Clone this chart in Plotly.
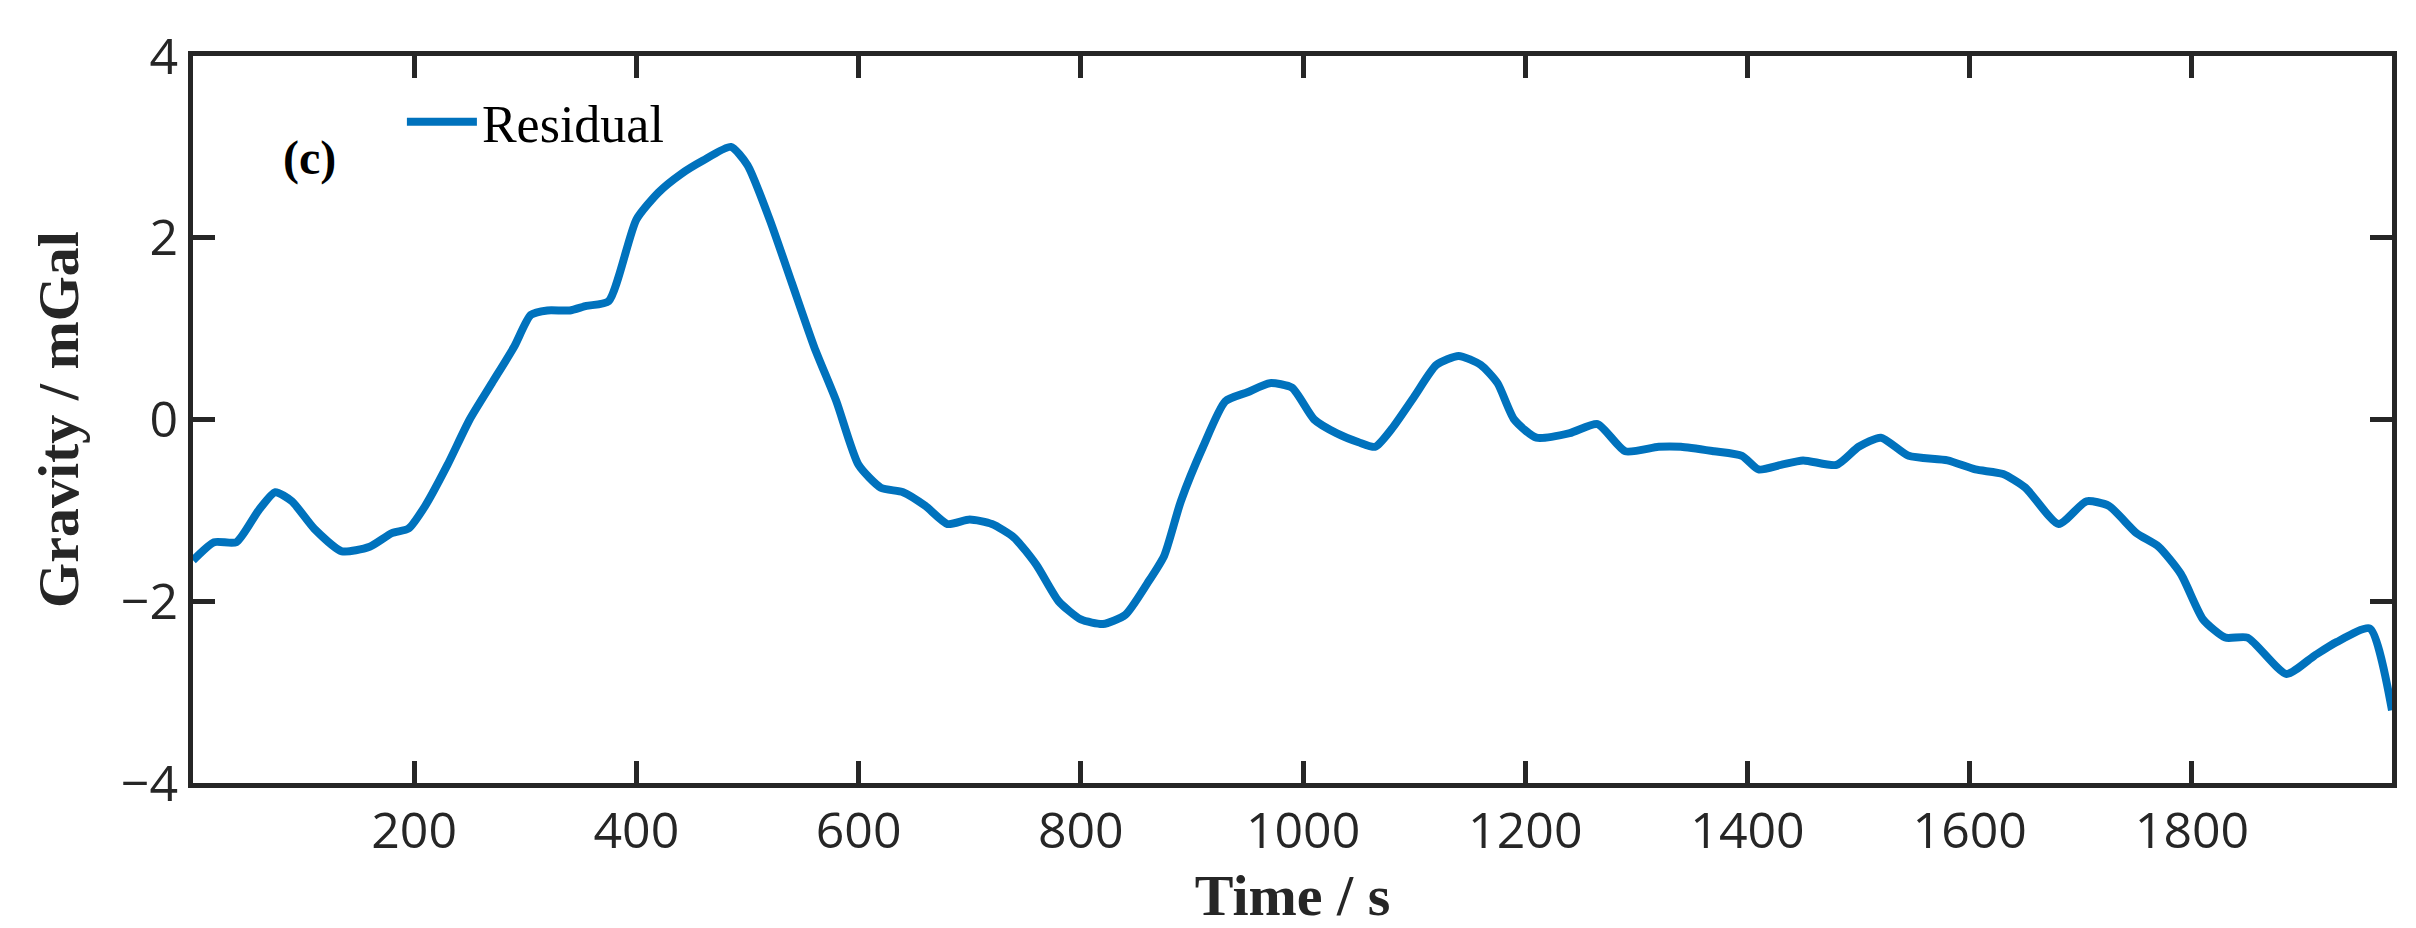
import plotly.graph_objects as go

time_s = [1, 20, 40, 60, 75, 90, 110, 135, 160, 180, 195, 210, 230, 250, 270, 290, 305, 320, 340, 355, 375,
          400, 420, 440, 460, 485, 500, 520, 540, 560, 580, 600, 620, 640, 660, 680, 700, 720, 740, 760,
          780, 800, 820, 840, 860, 875, 890, 910, 930, 950, 970, 990, 1010, 1030, 1050, 1065, 1080, 1100,
          1120, 1140, 1160, 1175, 1190, 1210, 1240, 1265, 1290, 1320, 1340, 1370, 1395, 1410, 1430, 1450,
          1480, 1500, 1520, 1545, 1580, 1605, 1630, 1650, 1680, 1705, 1725, 1750, 1770, 1790, 1810, 1830,
          1850, 1885, 1910, 1930, 1960, 1980]
residual = [-1.55, -1.35, -1.35, -1.0, -0.8, -0.9, -1.2, -1.45, -1.4, -1.25, -1.2, -0.95, -0.5, 0.0, 0.4,
            0.8, 1.15, 1.2, 1.2, 1.25, 1.3, 2.2, 2.5, 2.7, 2.85, 3.0, 2.8, 2.2, 1.5, 0.8, 0.2, -0.5, -0.75,
            -0.8, -0.95, -1.15, -1.1, -1.15, -1.3, -1.6, -2.0, -2.2, -2.25, -2.15, -1.8, -1.5, -0.9, -0.3,
            0.2, 0.3, 0.4, 0.35, 0.0, -0.15, -0.25, -0.3, -0.1, 0.25, 0.6, 0.7, 0.6, 0.4, 0.0, -0.2, -0.15,
            -0.05, -0.35, -0.3, -0.3, -0.35, -0.4, -0.55, -0.5, -0.45, -0.5, -0.3, -0.2, -0.4, -0.45, -0.55,
            -0.6, -0.75, -1.15, -0.9, -0.95, -1.25, -1.4, -1.7, -2.2, -2.4, -2.4, -2.8, -2.6, -2.45, -2.3, -3.2]
x_ticks = [200, 400, 600, 800, 1000, 1200, 1400, 1600, 1800]
y_ticks = [-4, -2, 0, 2, 4]

fig = go.Figure()
fig.add_trace(go.Scatter(x=time_s, y=residual, mode="lines", name="Residual", showlegend=True,
                         line=dict(color="#0072BD", width=8, shape="spline", smoothing=0.6)))

axis_common = dict(showline=True, linecolor="#262626", linewidth=5, mirror="ticks", ticks="inside",
                   ticklen=22, tickwidth=5, tickcolor="#262626", showgrid=False, zeroline=False,
                   tickfont=dict(family="Open Sans", size=50, color="#262626"))
fig.update_xaxes(range=[1, 1980], tickvals=x_ticks,
                 title=dict(text="<b>Time / s</b>", font=dict(family="Liberation Serif", size=58, color="#262626"), standoff=8),
                 **axis_common)
fig.update_yaxes(range=[-4, 4], tickvals=y_ticks,
                 ticktext=["\u22124", "\u22122", "0", "2", "4"],
                 title=dict(text="<b>Gravity / mGal</b>", font=dict(family="Liberation Serif", size=58, color="#262626"), standoff=25),
                 **axis_common)

fig.add_annotation(text="<b>(c)</b>", xref="paper", yref="paper", x=0.04, y=0.9, showarrow=False,
                   font=dict(family="Liberation Serif", size=48, color="black"), xanchor="left")

fig.update_layout(width=2416, height=928, plot_bgcolor="white", paper_bgcolor="white",
                  margin=dict(l=185, r=32, t=38, b=153),
                  legend=dict(x=0.095, y=0.965, xanchor="left", yanchor="top", bgcolor="rgba(0,0,0,0)",
                              font=dict(family="Liberation Serif", size=52, color="black"),
                              itemwidth=70))
fig.write_html("out.html")
